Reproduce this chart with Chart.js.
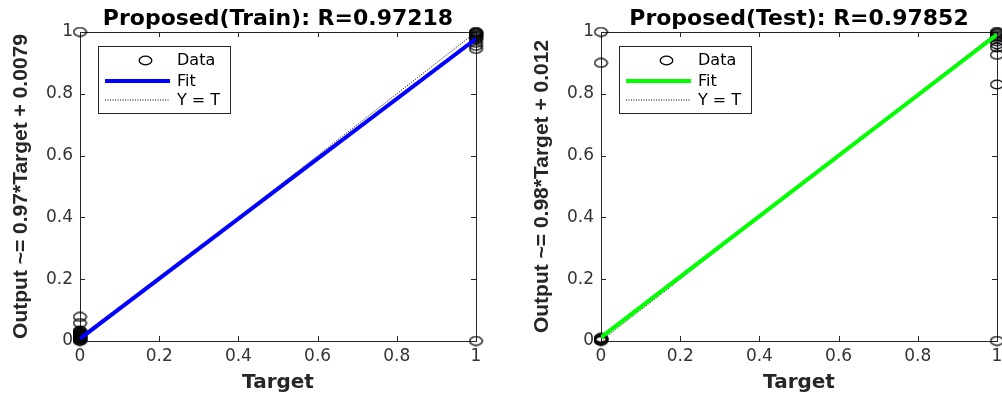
<!DOCTYPE html>
<html>
<head>
<meta charset="utf-8">
<script src="https://cdn.jsdelivr.net/npm/chart.js@4"></script>
<style>
  html, body { margin: 0; padding: 0; background: #fff; overflow: hidden; }
  body { width: 1002px; height: 396px; position: relative; }
  .panel { position: absolute; top: 0; width: 501px; height: 396px; }
</style>
</head>
<body>
<div class="panel" style="left:0"><canvas id="trainChart"></canvas></div>
<div class="panel" style="left:521px"><canvas id="testChart"></canvas></div>
<script>
const axisTicks = [0, 0.2, 0.4, 0.6, 0.8, 1]

// outputs, grouped by target value
const trainOut0 = [0, 0.002, 0.004, 0.006, 0.008, 0.01, 0.012, 0.014, 0.016, 0.018, 0.02,
    0.022, 0.024, 0.026, 0.028, 0.03, 0.034, 0.058, 0.078, 1]
const trainOut1 = [1, 0.998, 0.996, 0.993, 0.99, 0.987, 0.984, 0.98, 0.975, 0.965, 0.955, 0.945, 0]
const testOut0 = [0, 0.002, 0.004, 0.006, 0.008, 0.01, 0.9, 1]
const testOut1 = [1, 0.997, 0.994, 0.99, 0.985, 0.98, 0.97, 0.96, 0.95, 0.926, 0.83, 0]

// fit line endpoints (at target 0 and 1)
const trainFit = [0.0079, 0.9779]
const testFit = [0.012, 0.992]
const identity = [0, 1]

const trainTitle = 'Proposed(Train): R=0.97218'
const testTitle = 'Proposed(Test): R=0.97852'
const trainYLabel = 'Output ~= 0.97*Target + 0.0079'
const testYLabel = 'Output ~= 0.98*Target + 0.012'

const axisColor = '#262626'

// MATLAB-ish open circle (a bit wide)
const ring = document.createElement('canvas')
ring.width = 15
ring.height = 11
const rc = ring.getContext('2d')
rc.strokeStyle = '#000'
rc.lineWidth = 1.3
rc.beginPath()
rc.ellipse(7.5, 5.5, 6.3, 4.3, 0, 0, Math.PI * 2)
rc.stroke()

const toPoints = (out0, out1) => [
    ...out0.map(y => ({ x: 0, y })),
    ...out1.map(y => ({ x: 1, y }))
]
const toLine = ends => [{ x: 0, y: ends[0] }, { x: 1, y: ends[1] }]

const frame = {
    id: 'frame',
    beforeDatasetsDraw(chart) {
        const { ctx, chartArea: a, scales } = chart
        ctx.save()
        ctx.strokeStyle = axisColor
        ctx.lineWidth = 1
        ctx.strokeRect(Math.round(a.left) + 0.5, Math.round(a.top) + 0.5, Math.round(a.width), Math.round(a.height))
        ctx.beginPath()
        axisTicks.forEach(v => {
            const x = Math.round(scales.x.getPixelForValue(v)) + 0.5
            ctx.moveTo(x, a.bottom); ctx.lineTo(x, a.bottom - 5)
            ctx.moveTo(x, a.top); ctx.lineTo(x, a.top + 5)
            const y = Math.round(scales.y.getPixelForValue(v)) + 0.5
            ctx.moveTo(a.left, y); ctx.lineTo(a.left + 5, y)
            ctx.moveTo(a.right, y); ctx.lineTo(a.right - 5, y)
        })
        ctx.stroke()
        ctx.restore()
    }
}

const legendBox = {
    id: 'legendBox',
    afterDraw(chart) {
        const { ctx, chartArea: a } = chart
        const x = Math.round(a.left) + 18, y = Math.round(a.top) + 14, w = 132, h = 67
        ctx.save()
        ctx.fillStyle = '#fff'
        ctx.fillRect(x, y, w, h)
        ctx.strokeStyle = axisColor
        ctx.lineWidth = 1
        ctx.strokeRect(x + 0.5, y + 0.5, w, h)
        ctx.font = '16px "DejaVu Sans"'
        ctx.textBaseline = 'middle'
        const rows = [14, 35, 54]
        chart.data.datasets.forEach((ds, i) => {
            const cy = y + rows[i]
            if (!ds.showLine) {
                ctx.drawImage(ring, x + 47 - 7, cy - 5)
            } else {
                ctx.beginPath()
                ctx.strokeStyle = ds.borderColor
                ctx.lineWidth = ds.borderWidth
                ctx.setLineDash(ds.borderDash || [])
                ctx.moveTo(x + 7, cy)
                ctx.lineTo(x + 72, cy)
                ctx.stroke()
                ctx.setLineDash([])
            }
            ctx.fillStyle = '#000'
            ctx.fillText(ds.label, x + 79, cy + 1)
        })
        ctx.restore()
    }
}

const makeChart = (id, title, yLabel, points, fit, fitColor) => {
    const tickFont = { family: 'DejaVu Sans', size: 17 }
    return new Chart(document.getElementById(id), {
        type: 'scatter',
        data: {
            datasets: [{
                label: 'Data',
                data: points,
                pointStyle: ring,
                pointRadius: 6,
                order: 2,
                clip: false
            }, {
                label: 'Fit',
                data: toLine(fit),
                showLine: true,
                borderColor: fitColor,
                borderWidth: 4,
                pointRadius: 0,
                order: 0
            }, {
                label: 'Y = T',
                data: toLine(identity),
                showLine: true,
                borderColor: '#000',
                borderWidth: 1,
                borderDash: [1, 1.5],
                pointRadius: 0,
                order: 1
            }]
        },
        options: {
            responsive: true,
            maintainAspectRatio: false,
            animation: false,
            layout: { padding: { left: 0, right: 25, top: 0, bottom: 0 } },
            plugins: { legend: { display: false }, tooltip: { enabled: false } },
            scales: {
                x: {
                    type: 'linear', min: 0, max: 1,
                    afterBuildTicks: s => { s.ticks = axisTicks.map(v => ({ value: v })) },
                    grid: { display: false, drawTicks: false },
                    border: { display: false },
                    ticks: { font: tickFont, color: '#333', padding: 5, maxRotation: 0, callback: v => String(v) },
                    title: {
                        display: true, text: 'Target', color: axisColor,
                        font: { family: 'DejaVu Sans', size: 20, weight: 'bold' },
                        padding: { top: 0, bottom: 1 }
                    },
                    afterFit: s => { s.height = 55 }
                },
                xTop: {
                    type: 'linear', position: 'top', min: 0, max: 1,
                    grid: { display: false, drawTicks: false },
                    border: { display: false },
                    ticks: { display: false },
                    title: {
                        display: true, text: title, color: '#000',
                        font: { family: 'DejaVu Sans', size: 22, weight: 'bold' },
                        padding: { top: 6, bottom: 0 }
                    },
                    afterFit: s => { s.height = 32 }
                },
                y: {
                    type: 'linear', min: 0, max: 1,
                    afterBuildTicks: s => { s.ticks = axisTicks.map(v => ({ value: v })) },
                    grid: { display: false, drawTicks: false },
                    border: { display: false },
                    ticks: { font: tickFont, color: '#333', padding: 7, callback: v => String(v) },
                    title: {
                        display: true, text: yLabel, color: axisColor,
                        font: { family: 'Liberation Sans', size: 21, weight: 'bold' },
                        padding: { top: 9, bottom: 0 }
                    },
                    afterFit: s => { s.width = 80 }
                }
            }
        },
        plugins: [frame, legendBox]
    })
}

makeChart('trainChart', trainTitle, trainYLabel, toPoints(trainOut0, trainOut1), trainFit, '#0000ff')
makeChart('testChart', testTitle, testYLabel, toPoints(testOut0, testOut1), testFit, '#00ff00')
</script>
</body>
</html>
